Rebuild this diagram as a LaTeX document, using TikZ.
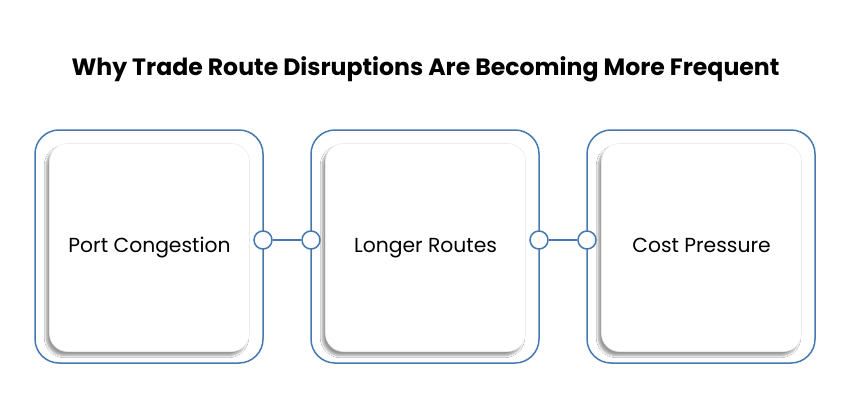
\documentclass[tikz,border=0pt]{standalone}
\usepackage{fontspec}
\setmainfont{Poppins}
\usetikzlibrary{shadows.blur}
\definecolor{edgeblue}{HTML}{4579B0}
\definecolor{cardline}{HTML}{EBEBEB}
\begin{document}
\begin{tikzpicture}[x=1pt,y=-1pt,
  outerbox/.style={draw=edgeblue,line width=1.5pt,rounded corners=24pt,fill=white},
  card/.style={draw=cardline,line width=0.6pt,fill=white,rounded corners=18pt,
    blur shadow={shadow xshift=-3pt,shadow yshift=-4pt,shadow blur steps=8,shadow opacity=40},
    minimum width=200pt,minimum height=208pt,inner sep=0pt,
    text height=0.95em,text depth=0pt,font=\fontsize{20.3}{24}\selectfont},
  knob/.style={circle,draw=edgeblue,line width=1.5pt,fill=white,minimum size=18pt,inner sep=0pt},
  link/.style={draw=edgeblue,line width=1.5pt}]
\useasboundingbox[fill=white] (0,0) rectangle (850,401);
\node[font=\fontseries{b}\fontsize{23.6}{28}\selectfont] (title) at (425.5,69) {Why Trade Route Disruptions Are Becoming More Frequent};
\foreach \cx/\nm/\txt in {149/a/Port Congestion,425/b/Longer Routes,701/c/Cost Pressure}{
  \draw[outerbox] (\cx-114,130) rectangle (\cx+114,363);
  \node[card] (\nm) at (\cx+0.5,247.5) {\txt};
}
\node[knob] (k1) at (263,240) {};
\node[knob] (k2) at (311,240) {};
\node[knob] (k3) at (539,240) {};
\node[knob] (k4) at (587,240) {};
\draw[link] (k1) -- (k2);
\draw[link] (k3) -- (k4);
\end{tikzpicture}
\end{document}
